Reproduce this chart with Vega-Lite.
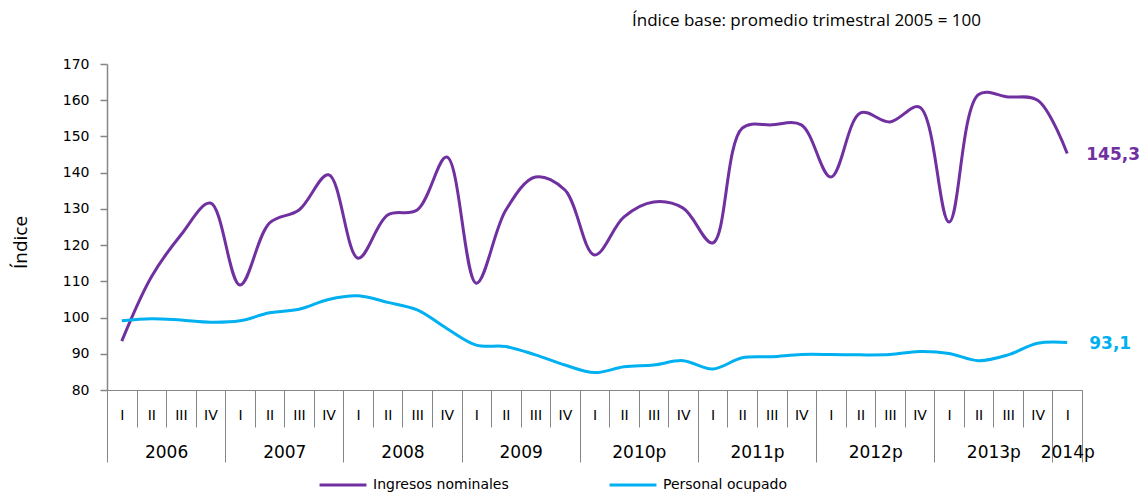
{
  "$schema": "https://vega.github.io/schema/vega-lite/v6.json",
  "autosize": "none",
  "width": 975,
  "height": 326,
  "padding": {"left": 107, "top": 64, "right": 63, "bottom": 104},
  "background": "white",
  "title": {
    "text": "Índice base: promedio trimestral 2005 = 100",
    "anchor": "start",
    "frame": "group",
    "dx": 525,
    "offset": 27,
    "font": "Open Sans",
    "fontSize": 17,
    "fontWeight": "normal",
    "color": "#000000"
  },
  "config": {
    "view": {"stroke": null},
    "locale": {
      "number": {"decimal": ",", "thousands": ".", "grouping": [3], "currency": ["", ""]}
    },
    "axis": {"grid": false, "domainColor": "#868686", "tickColor": "#868686", "labelColor": "#000000", "labelFont": "DejaVu Sans"},
    "axisY": {"labelFontSize": 14, "tickSize": 7, "tickWidth": 1.5, "domainWidth": 1.5, "labelPadding": 11, "labelOverlap": false, "labelFlush": false, "ticks": true}
  },
  "data": {
    "values": [
      {"i": 0, "serie": "Ingresos nominales", "valor": 93.5},
      {"i": 1, "serie": "Ingresos nominales", "valor": 111.2},
      {"i": 2, "serie": "Ingresos nominales", "valor": 122.8},
      {"i": 3, "serie": "Ingresos nominales", "valor": 131.6},
      {"i": 4, "serie": "Ingresos nominales", "valor": 109.0},
      {"i": 5, "serie": "Ingresos nominales", "valor": 126.1},
      {"i": 6, "serie": "Ingresos nominales", "valor": 129.7},
      {"i": 7, "serie": "Ingresos nominales", "valor": 139.4},
      {"i": 8, "serie": "Ingresos nominales", "valor": 116.4},
      {"i": 9, "serie": "Ingresos nominales", "valor": 128.3},
      {"i": 10, "serie": "Ingresos nominales", "valor": 129.7},
      {"i": 11, "serie": "Ingresos nominales", "valor": 144.3},
      {"i": 12, "serie": "Ingresos nominales", "valor": 109.5},
      {"i": 13, "serie": "Ingresos nominales", "valor": 129.7},
      {"i": 14, "serie": "Ingresos nominales", "valor": 138.8},
      {"i": 15, "serie": "Ingresos nominales", "valor": 135.2},
      {"i": 16, "serie": "Ingresos nominales", "valor": 117.3},
      {"i": 17, "serie": "Ingresos nominales", "valor": 127.8},
      {"i": 18, "serie": "Ingresos nominales", "valor": 131.9},
      {"i": 19, "serie": "Ingresos nominales", "valor": 130.2},
      {"i": 20, "serie": "Ingresos nominales", "valor": 120.6},
      {"i": 21, "serie": "Ingresos nominales", "valor": 152.3},
      {"i": 22, "serie": "Ingresos nominales", "valor": 153.2},
      {"i": 23, "serie": "Ingresos nominales", "valor": 153.2},
      {"i": 24, "serie": "Ingresos nominales", "valor": 138.8},
      {"i": 25, "serie": "Ingresos nominales", "valor": 156.5},
      {"i": 26, "serie": "Ingresos nominales", "valor": 154.0},
      {"i": 27, "serie": "Ingresos nominales", "valor": 158.1},
      {"i": 28, "serie": "Ingresos nominales", "valor": 126.4},
      {"i": 29, "serie": "Ingresos nominales", "valor": 161.6},
      {"i": 30, "serie": "Ingresos nominales", "valor": 160.9},
      {"i": 31, "serie": "Ingresos nominales", "valor": 160.0},
      {"i": 32, "serie": "Ingresos nominales", "valor": 145.3},
      {"i": 0, "serie": "Personal ocupado", "valor": 99.1},
      {"i": 1, "serie": "Personal ocupado", "valor": 99.7},
      {"i": 2, "serie": "Personal ocupado", "valor": 99.3},
      {"i": 3, "serie": "Personal ocupado", "valor": 98.7},
      {"i": 4, "serie": "Personal ocupado", "valor": 99.1},
      {"i": 5, "serie": "Personal ocupado", "valor": 101.3},
      {"i": 6, "serie": "Personal ocupado", "valor": 102.3},
      {"i": 7, "serie": "Personal ocupado", "valor": 105.0},
      {"i": 8, "serie": "Personal ocupado", "valor": 106.0},
      {"i": 9, "serie": "Personal ocupado", "valor": 104.2},
      {"i": 10, "serie": "Personal ocupado", "valor": 102.1},
      {"i": 11, "serie": "Personal ocupado", "valor": 97.0},
      {"i": 12, "serie": "Personal ocupado", "valor": 92.4},
      {"i": 13, "serie": "Personal ocupado", "valor": 92.0},
      {"i": 14, "serie": "Personal ocupado", "valor": 89.7},
      {"i": 15, "serie": "Personal ocupado", "valor": 86.9},
      {"i": 16, "serie": "Personal ocupado", "valor": 84.8},
      {"i": 17, "serie": "Personal ocupado", "valor": 86.4},
      {"i": 18, "serie": "Personal ocupado", "valor": 86.9},
      {"i": 19, "serie": "Personal ocupado", "valor": 88.1},
      {"i": 20, "serie": "Personal ocupado", "valor": 85.8},
      {"i": 21, "serie": "Personal ocupado", "valor": 88.9},
      {"i": 22, "serie": "Personal ocupado", "valor": 89.2},
      {"i": 23, "serie": "Personal ocupado", "valor": 89.8},
      {"i": 24, "serie": "Personal ocupado", "valor": 89.8},
      {"i": 25, "serie": "Personal ocupado", "valor": 89.7},
      {"i": 26, "serie": "Personal ocupado", "valor": 89.8},
      {"i": 27, "serie": "Personal ocupado", "valor": 90.6},
      {"i": 28, "serie": "Personal ocupado", "valor": 90.1},
      {"i": 29, "serie": "Personal ocupado", "valor": 88.1},
      {"i": 30, "serie": "Personal ocupado", "valor": 89.7},
      {"i": 31, "serie": "Personal ocupado", "valor": 92.9},
      {"i": 32, "serie": "Personal ocupado", "valor": 93.1}
    ]
  },
  "encoding": {
    "y": {
      "field": "valor", "type": "quantitative",
      "scale": {"domain": [80, 170], "nice": false, "zero": false},
      "axis": {
        "values": [80, 90, 100, 110, 120, 130, 140, 150, 160, 170],
        "title": "Índice",
        "titleFont": "Liberation Sans Narrow, Open Sans",
        "titleFontSize": 19,
        "titleFontWeight": "normal",
        "titleColor": "#000000",
        "titleX": -87, "titleY": 178,
        "titleAngle": 270,
        "titleAlign": "center",
        "titleBaseline": "middle",
        "ticks": true,
        "tickSize": 7,
        "tickWidth": 1.5,
        "labelPadding": 11,
        "labelFontSize": 14,
        "labelOverlap": false,
        "labelFlush": false,
        "domainWidth": 1.5
      }
    }
  },
  "layer": [
    {
      "transform": [{"filter": "datum.serie == 'Ingresos nominales'"}],
      "mark": {"type": "line", "strokeWidth": 3, "interpolate": "catmull-rom"},
      "encoding": {
        "x": {
          "field": "i", "type": "quantitative",
          "scale": {"domain": [-0.5, 32.5], "nice": false, "zero": false},
          "axis": {
            "orient": "bottom", "title": null, "labels": false,
            "values": [-0.5, 0.5, 1.5, 2.5, 3.5, 4.5, 5.5, 6.5, 7.5, 8.5, 9.5, 10.5, 11.5, 12.5, 13.5, 14.5, 15.5, 16.5, 17.5, 18.5, 19.5, 20.5, 21.5, 22.5, 23.5, 24.5, 25.5, 26.5, 27.5, 28.5, 29.5, 30.5, 31.5, 32.5],
            "tickSize": 37, "tickWidth": 1, "domain": true, "domainWidth": 1
          }
        },
        "color": {
          "field": "serie", "type": "nominal",
          "scale": {"domain": ["Ingresos nominales", "Personal ocupado"], "range": ["#7030A0", "#00B0F0"]},
          "legend": {
            "orient": "none", "direction": "horizontal",
            "legendX": 211, "legendY": 396,
            "title": null,
            "symbolType": "stroke", "symbolSize": 2200, "symbolStrokeWidth": 3,
            "labelFont": "DejaVu Sans", "labelFontSize": 14, "labelColor": "#000000",
            "labelOffset": 5, "columnPadding": 94
          }
        }
      }
    },
    {
      "transform": [{"filter": "datum.serie == 'Personal ocupado'"}],
      "mark": {"type": "line", "strokeWidth": 3, "interpolate": "catmull-rom"},
      "encoding": {
        "x": {
          "field": "i", "type": "quantitative",
          "axis": {
            "orient": "bottom", "title": null, "ticks": false, "domain": false,
            "values": [0, 1, 2, 3, 4, 5, 6, 7, 8, 9, 10, 11, 12, 13, 14, 15, 16, 17, 18, 19, 20, 21, 22, 23, 24, 25, 26, 27, 28, 29, 30, 31, 32],
            "labelExpr": "['I','II','III','IV'][datum.value % 4]",
            "labelFontSize": 14, "labelBaseline": "middle", "labelPadding": 25,
            "labelOverlap": false, "labelFlush": false
          }
        },
        "color": {"field": "serie", "type": "nominal"}
      }
    },
    {
      "transform": [{"filter": "datum.serie == 'Ingresos nominales' && datum.i == 32"}],
      "mark": {"type": "text", "align": "left", "baseline": "middle", "dx": 19, "dy": 2, "font": "DejaVu Sans", "fontSize": 17, "fontWeight": "bold", "color": "#7030A0"},
      "encoding": {
        "x": {
          "field": "i", "type": "quantitative",
          "axis": {
            "orient": "bottom", "title": null, "labels": false, "domain": false,
            "values": [-0.5, 3.5, 7.5, 11.5, 15.5, 19.5, 23.5, 27.5, 31.5, 32.5],
            "tickSize": 72, "tickWidth": 1
          }
        },
        "text": {"field": "valor", "type": "quantitative", "format": ".1f"}
      }
    },
    {
      "transform": [{"filter": "datum.serie == 'Personal ocupado' && datum.i == 32"}],
      "mark": {"type": "text", "align": "left", "baseline": "middle", "dx": 22, "dy": 1, "font": "DejaVu Sans", "fontSize": 17, "fontWeight": "bold", "color": "#00B0F0"},
      "encoding": {
        "x": {
          "field": "i", "type": "quantitative",
          "axis": {
            "orient": "bottom", "title": null, "ticks": false, "domain": false,
            "values": [1.5, 5.5, 9.5, 13.5, 17.5, 21.5, 25.5, 29.5, 32],
            "labelExpr": "datum.value == 32 ? '2014p' : ['2006','2007','2008','2009','2010p','2011p','2012p','2013p'][floor(datum.value / 4)]",
            "labelFontSize": 17, "labelBaseline": "middle", "labelPadding": 62,
            "labelOverlap": false, "labelFlush": false
          }
        },
        "text": {"field": "valor", "type": "quantitative", "format": ".1f"}
      }
    }
  ],
  "resolve": {"axis": {"x": "independent"}}
}
